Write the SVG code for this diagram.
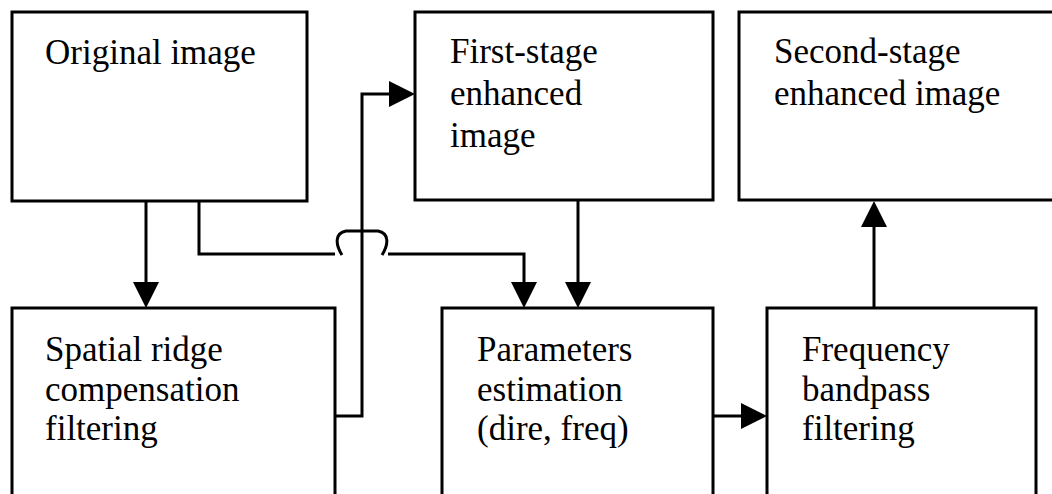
<svg xmlns="http://www.w3.org/2000/svg" width="1052" height="494" viewBox="0 0 1052 494">
  <style>
    .box { fill: #fff; stroke: #000; stroke-width: 3; }
    .lbl { font-family: "Liberation Serif", "Times New Roman", serif; font-size: 35px; fill: #000; }
    .wire { fill: none; stroke: #000; stroke-width: 3; stroke-linejoin: miter; }
  </style>
  <defs>
    <marker id="head" viewBox="0 -13 26 26" refX="0" refY="0" markerUnits="userSpaceOnUse" markerWidth="26" markerHeight="26" orient="auto">
      <path d="M0,-13 L26,0 L0,13 Z" fill="#000"/>
    </marker>
  </defs>
  <rect width="1052" height="494" fill="#fff"/>

  <g id="original">
    <rect class="box" x="12" y="12" width="295" height="189"/>
    <text class="lbl" x="45" y="64">Original image</text>
  </g>
  <g id="first-stage">
    <rect class="box" x="415" y="12" width="298" height="188"/>
    <text class="lbl" x="450" y="63">First-stage</text>
    <text class="lbl" x="450" y="105">enhanced</text>
    <text class="lbl" x="450" y="147">image</text>
  </g>
  <g id="second-stage">
    <rect class="box" x="739" y="12" width="330" height="188"/>
    <text class="lbl" x="774" y="63">Second-stage</text>
    <text class="lbl" x="774" y="105">enhanced image</text>
  </g>
  <g id="spatial">
    <rect class="box" x="12" y="308" width="323" height="200"/>
    <text class="lbl" x="45" y="361">Spatial ridge</text>
    <text class="lbl" x="45" y="401">compensation</text>
    <text class="lbl" x="45" y="440">filtering</text>
  </g>
  <g id="parameters">
    <rect class="box" x="442" y="308" width="271" height="200"/>
    <text class="lbl" x="477" y="361">Parameters</text>
    <text class="lbl" x="477" y="401">estimation</text>
    <text class="lbl" x="477" y="440">(dire, freq)</text>
  </g>
  <g id="frequency">
    <rect class="box" x="767" y="308" width="269" height="200"/>
    <text class="lbl" x="802" y="361">Frequency</text>
    <text class="lbl" x="802" y="401">bandpass</text>
    <text class="lbl" x="802" y="440">filtering</text>
  </g>

  <g id="connectors">
    <!-- original -> spatial -->
    <path class="wire" d="M146,201 V282" marker-end="url(#head)"/>
    <!-- original -> parameters, hopping over the vertical wire -->
    <path class="wire" d="M199,201 V254 H335 M342,255 C335,244 335,233 346,231 L378,231 C389,233 389,244 382,255 M388,254 H524 V282" marker-end="url(#head)"/>
    <!-- spatial -> first-stage -->
    <path class="wire" d="M335,416 H362 V94 H389" marker-end="url(#head)"/>
    <!-- first-stage -> parameters -->
    <path class="wire" d="M578,200 V282" marker-end="url(#head)"/>
    <!-- parameters -> frequency -->
    <path class="wire" d="M713,416 H741" marker-end="url(#head)"/>
    <!-- frequency -> second-stage -->
    <path class="wire" d="M874,308 V227" marker-end="url(#head)"/>
  </g>
</svg>
